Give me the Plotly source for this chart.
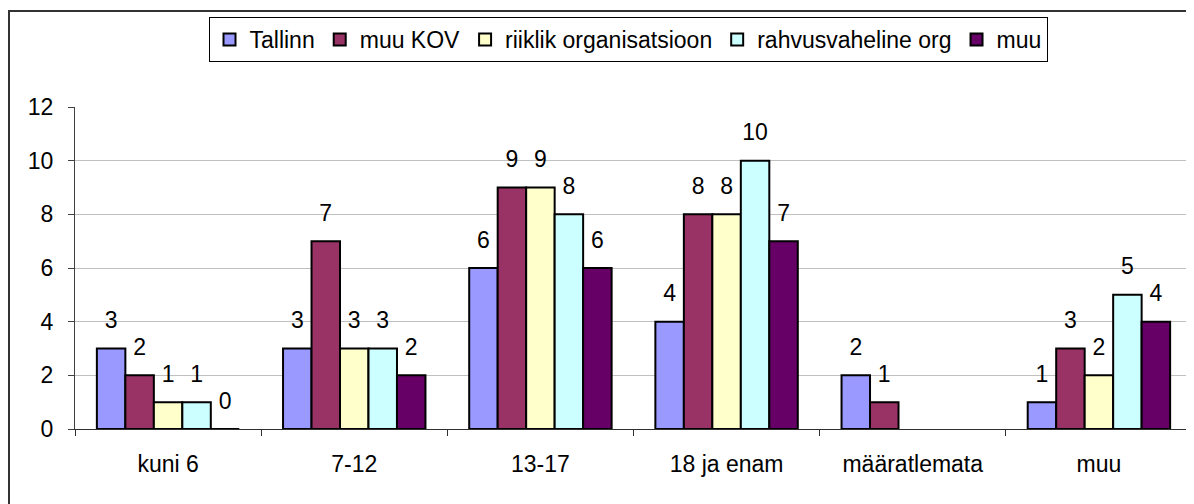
import plotly.graph_objects as go

categories = ["kuni 6", "7-12", "13-17", "18 ja enam", "määratlemata", "muu"]
series_names = ["Tallinn", "muu KOV", "riiklik organisatsioon", "rahvusvaheline org", "muu"]
tallinn = [3, 3, 6, 4, 2, 1]
muu_kov = [2, 7, 9, 8, 1, 3]
riiklik = [1, 3, 9, 8, None, 2]
rahvusvaheline = [1, 3, 8, 10, None, 5]
muu = [0, 2, 6, 7, None, 4]
colors = ["#9999FF", "#993366", "#FFFFCC", "#CCFFFF", "#660066"]
y_ticks = [0, 2, 4, 6, 8, 10, 12]

FONT = "Liberation Sans, Arial, sans-serif"
FS = 23
GAP = 0.235
series = [tallinn, muu_kov, riiklik, rahvusvaheline, muu]

fig = go.Figure()
for name, vals, col in zip(series_names, series, colors):
    fig.add_trace(go.Bar(
        x=categories, y=vals, name=name,
        marker=dict(color=col, line=dict(color="black", width=2)),
        hoverinfo="x+y+name",
    ))
# value labels (grouped like the bars, lifted above the bar tops)
for name, vals in zip(series_names, series):
    fig.add_trace(go.Scatter(
        x=categories, y=vals, mode="markers+text", showlegend=False,
        text=[("" if v is None else str(v)) for v in vals],
        textposition="top center", cliponaxis=False,
        marker=dict(size=22, opacity=0),
        textfont=dict(family=FONT, size=FS, color="black"),
        hoverinfo="skip",
    ))

# page has an 8px body margin; figure coordinates are page pixels minus 8
OFF = 8
W, H = 1194 - OFF, 504 - OFF
plot_left, plot_right, plot_top, plot_bottom = 75, 1192, 107, 429
L = plot_left - OFF
R = 1194 - plot_right
T = plot_top - OFF
B = 504 - plot_bottom
pw = plot_right - plot_left
ph = plot_bottom - plot_top

def px_x(p):
    return (p - plot_left) / pw

def px_y(p):
    return (plot_bottom - p) / ph

fig.update_layout(
    width=W, height=H,
    margin=dict(l=L, r=R, t=T, b=B, pad=0, autoexpand=False),
    paper_bgcolor="white", plot_bgcolor="white",
    barmode="group", bargap=GAP, bargroupgap=0,
    scattermode="group", scattergap=GAP,
    font=dict(family=FONT, size=FS, color="black"),
    showlegend=True,
    legend=dict(
        orientation="h", x=px_x(628), xanchor="center", y=px_y(17), yanchor="top",
        bordercolor="black", borderwidth=1, bgcolor="white",
        font=dict(family=FONT, size=FS, color="black"),
        itemwidth=30, tracegroupgap=0,
    ),
    xaxis=dict(
        automargin=False,
        showline=True, linecolor="#303030", linewidth=1,
        ticks="outside", tickson="boundaries", ticklen=6, tickcolor="#303030",
        showgrid=False, ticklabelstandoff=14,
        tickfont=dict(family=FONT, size=FS, color="black"),
    ),
    yaxis=dict(
        automargin=False,
        range=[0, 12], tickvals=y_ticks, showline=True, linecolor="#404040", linewidth=1,
        ticks="outside", ticklen=6, tickcolor="#404040",
        showgrid=True, gridcolor="#C0C0C0", gridwidth=1, zeroline=False,
        tickfont=dict(family=FONT, size=FS, color="black"), ticklabelstandoff=10,
    ),
    shapes=[
        dict(type="line", xref="paper", yref="paper", x0=1, x1=1, y0=0, y1=1,
             line=dict(color="#A0A0A0", width=1.5)),
        dict(type="rect", xref="paper", yref="paper",
             x0=px_x(9), x1=px_x(1230), y0=px_y(540), y1=px_y(11),
             line=dict(color="#333333", width=2), fillcolor="rgba(0,0,0,0)", layer="below"),
    ],
)

fig.write_html("out.html")
